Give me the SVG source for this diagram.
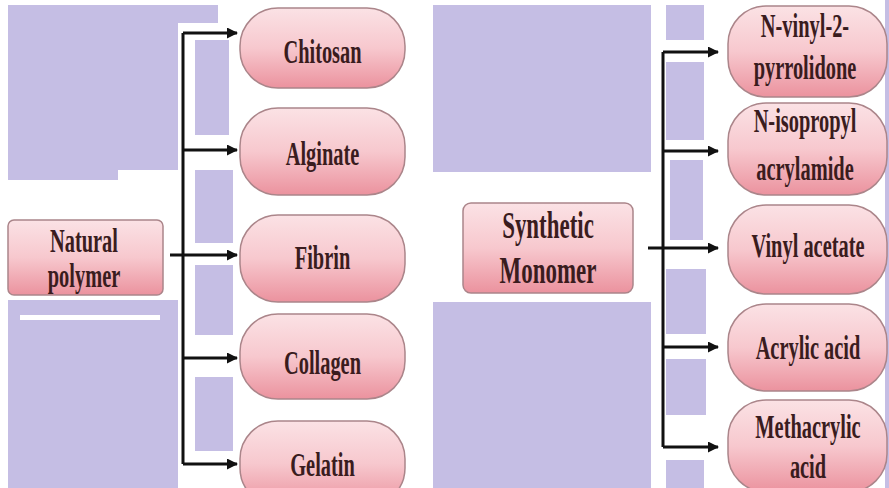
<svg xmlns="http://www.w3.org/2000/svg" width="889" height="488" viewBox="0 0 889 488">
<defs>
<linearGradient id="pink" x1="0" y1="0" x2="0" y2="1">
<stop offset="0" stop-color="#fbe2e5"/>
<stop offset="0.5" stop-color="#f7c8ce"/>
<stop offset="1" stop-color="#eb929e"/>
</linearGradient>
<marker id="ah" markerUnits="userSpaceOnUse" markerWidth="11" markerHeight="11" refX="10" refY="5.5" orient="auto">
<path d="M0,0 L11,5.5 L0,11 Z" fill="#111"/>
</marker>
<style>
.lav{fill:#c5bee4}
.pill{fill:url(#pink);stroke:#ab858a;stroke-width:1.5}
.lbl{font-family:"Liberation Serif","Times New Roman",serif;font-weight:bold;font-size:34px;fill:#3a1c1e;text-anchor:middle}
.big{font-size:37px}
.con{stroke:#111;stroke-width:3;fill:none}
.arr{stroke:#111;stroke-width:3;fill:none;marker-end:url(#ah)}
</style>
</defs>
<rect width="889" height="488" fill="#ffffff"/>
<g id="background">
<rect class="lav" x="8" y="5" width="170" height="165"/>
<rect class="lav" x="178" y="5" width="40" height="18"/>
<rect class="lav" x="8" y="170" width="110" height="10"/>
<rect class="lav" x="8" y="300" width="170" height="188"/>
<rect fill="#ffffff" x="20" y="315" width="140" height="5"/>
<rect class="lav" x="195" y="40" width="34" height="95"/>
<rect class="lav" x="195" y="170" width="38" height="73"/>
<rect class="lav" x="195" y="265" width="38" height="70"/>
<rect class="lav" x="195" y="377" width="38" height="74"/>
<rect class="lav" x="433" y="5" width="218" height="167"/>
<rect class="lav" x="433" y="302" width="218" height="186"/>
<rect class="lav" x="666" y="5" width="38" height="35"/>
<rect class="lav" x="666" y="62" width="38" height="78"/>
<rect class="lav" x="670" y="160" width="33" height="80"/>
<rect class="lav" x="666" y="269" width="40" height="65"/>
<rect class="lav" x="666" y="359" width="40" height="56"/>
<rect class="lav" x="666" y="460" width="38" height="28"/>
<rect class="lav" x="885" y="0" width="4" height="488"/>
</g>
<g id="connectors">
<line class="con" x1="183" y1="33" x2="183" y2="464"/>
<line class="arr" x1="183" y1="33" x2="237" y2="33"/>
<line class="arr" x1="183" y1="150" x2="237" y2="150"/>
<line class="arr" x1="170" y1="255" x2="237" y2="255"/>
<line class="arr" x1="183" y1="358" x2="237" y2="358"/>
<line class="arr" x1="183" y1="464" x2="237" y2="464"/>
<line class="con" x1="663" y1="52" x2="663" y2="447"/>
<line class="arr" x1="663" y1="52" x2="718" y2="52"/>
<line class="arr" x1="663" y1="151" x2="718" y2="151"/>
<line class="arr" x1="648" y1="248" x2="718" y2="248"/>
<line class="arr" x1="663" y1="347" x2="718" y2="347"/>
<line class="arr" x1="663" y1="447" x2="718" y2="447"/>
</g>
<g id="natural-polymer">
<rect class="pill" x="8" y="220" width="155" height="75" rx="6"/>
<text class="lbl" transform="translate(84,252) scale(0.6,1)"><tspan x="0">Natural</tspan><tspan x="0" dy="35">polymer</tspan></text>
</g>
<g id="chitosan">
<rect class="pill" x="240" y="8" width="165" height="80" rx="38"/>
<text class="lbl" transform="translate(322.5,63) scale(0.6,1)">Chitosan</text>
</g>
<g id="alginate">
<rect class="pill" x="240" y="108" width="165" height="87" rx="38"/>
<text class="lbl" transform="translate(322.5,165) scale(0.6,1)">Alginate</text>
</g>
<g id="fibrin">
<rect class="pill" x="240" y="215" width="165" height="87" rx="38"/>
<text class="lbl" transform="translate(322.5,269) scale(0.6,1)">Fibrin</text>
</g>
<g id="collagen">
<rect class="pill" x="240" y="314" width="165" height="85" rx="38"/>
<text class="lbl" transform="translate(322.5,374) scale(0.6,1)">Collagen</text>
</g>
<g id="gelatin">
<rect class="pill" x="240" y="421" width="165" height="85" rx="38"/>
<text class="lbl" transform="translate(322.5,476) scale(0.6,1)">Gelatin</text>
</g>
<g id="synthetic-monomer">
<rect class="pill" x="463" y="203" width="170" height="90" rx="8"/>
<text class="lbl big" transform="translate(548,238) scale(0.62,1)"><tspan x="0">Synthetic</tspan><tspan x="0" dy="45">Monomer</tspan></text>
</g>
<g id="n-vinyl-2-pyrrolidone">
<rect class="pill" x="728" y="6" width="159" height="91" rx="38"/>
<text class="lbl" transform="translate(805,37) scale(0.6,1)"><tspan x="0">N-vinyl-2-</tspan><tspan x="0" dy="42">pyrrolidone</tspan></text>
</g>
<g id="n-isopropyl-acrylamide">
<rect class="pill" x="728" y="103" width="159" height="92" rx="38"/>
<text class="lbl" transform="translate(805,132) scale(0.6,1)"><tspan x="0">N-isopropyl</tspan><tspan x="0" dy="48">acrylamide</tspan></text>
</g>
<g id="vinyl-acetate">
<rect class="pill" x="728" y="205" width="159" height="89" rx="38"/>
<text class="lbl" transform="translate(808,257) scale(0.6,1)">Vinyl acetate</text>
</g>
<g id="acrylic-acid">
<rect class="pill" x="728" y="304" width="159" height="87" rx="38"/>
<text class="lbl" transform="translate(808,359) scale(0.6,1)">Acrylic acid</text>
</g>
<g id="methacrylic-acid">
<rect class="pill" x="728" y="400" width="159" height="92" rx="38"/>
<text class="lbl" transform="translate(808,438) scale(0.6,1)"><tspan x="0">Methacrylic</tspan><tspan x="0" dy="40">acid</tspan></text>
</g>
</svg>
